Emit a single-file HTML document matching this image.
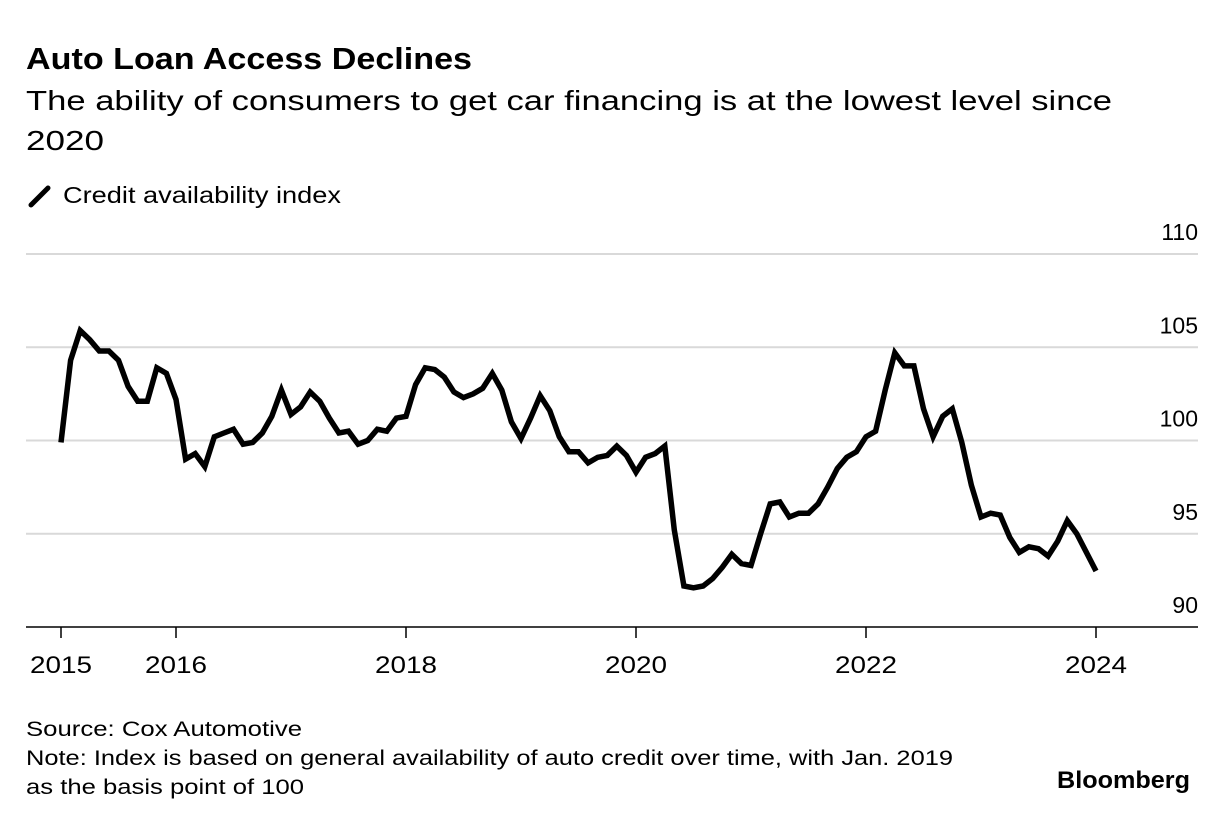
<!DOCTYPE html>
<html><head><meta charset="utf-8"><style>
body{margin:0;background:#fff;width:1227px;height:824px;overflow:hidden;font-family:"Liberation Sans",sans-serif;color:#000}
svg{position:absolute;left:0;top:0}
</style></head><body>
<svg width="1227" height="824">
<text x="26" y="69" font-size="31" font-weight="bold" textLength="446" lengthAdjust="spacingAndGlyphs">Auto Loan Access Declines</text>
<text x="26" y="110" font-size="28" textLength="1086" lengthAdjust="spacingAndGlyphs">The ability of consumers to get car financing is at the lowest level since</text>
<text x="26" y="150" font-size="28" textLength="78" lengthAdjust="spacingAndGlyphs">2020</text>
<g>
<line x1="31" y1="205" x2="48" y2="188" stroke="#000" stroke-width="5" stroke-linecap="round"/>
<text x="63" y="203" font-size="23" textLength="278" lengthAdjust="spacingAndGlyphs">Credit availability index</text>
</g>
<g id="grid"></g><g id="xaxis"></g><g id="plot"></g>
<text x="26" y="736" font-size="21" textLength="276" lengthAdjust="spacingAndGlyphs">Source: Cox Automotive</text>
<text x="26" y="765" font-size="21" textLength="927" lengthAdjust="spacingAndGlyphs">Note: Index is based on general availability of auto credit over time, with Jan. 2019</text>
<text x="26" y="794" font-size="21" textLength="278" lengthAdjust="spacingAndGlyphs">as the basis point of 100</text>
<text x="1190" y="788" font-size="24" font-weight="bold" text-anchor="end" textLength="133" lengthAdjust="spacingAndGlyphs">Bloomberg</text>
</svg>
<script>
const values=[99.9,104.3,105.9,105.4,104.8,104.8,104.3,102.9,102.1,102.1,103.9,103.6,
102.2,99.0,99.3,98.6,100.2,100.4,100.6,99.8,99.9,100.4,101.3,102.7,
101.4,101.8,102.6,102.1,101.2,100.4,100.5,99.8,100.0,100.6,100.5,101.2,
101.3,103.0,103.9,103.8,103.4,102.6,102.3,102.5,102.8,103.6,102.7,101.0,
100.1,101.2,102.4,101.6,100.2,99.4,99.4,98.8,99.1,99.2,99.7,99.2,
98.3,99.1,99.3,99.7,95.2,92.2,92.1,92.2,92.6,93.2,93.9,93.4,
93.3,95.0,96.6,96.7,95.9,96.1,96.1,96.6,97.5,98.5,99.1,99.4,
100.2,100.5,102.7,104.7,104.0,104.0,101.7,100.2,101.3,101.7,99.9,97.6,
95.9,96.1,96.0,94.8,94.0,94.3,94.2,93.8,94.6,95.7,95.0,94.0,
93.0];
const yTicks=[90,95,100,105,110];
const xTicks=[2015,2016,2018,2020,2022,2024];
const startYear=2015;
const NS='http://www.w3.org/2000/svg';
const xS=yr=>61+(yr-2015)*115;
const yS=v=>627-(v-90)*18.65;
const grid=document.getElementById('grid'),xa=document.getElementById('xaxis'),plot=document.getElementById('plot');
function mk(tag,at,parent){const e=document.createElementNS(NS,tag);for(const k in at)e.setAttribute(k,at[k]);parent.appendChild(e);return e;}
yTicks.forEach(t=>{
 if(t>90){const l=mk('line',{x1:26,x2:1198,y1:yS(t),y2:yS(t),stroke:'#d9d9d9','stroke-width':2},grid);
 
 }
 const tx=mk('text',{x:1198,y:yS(t)-14,'font-size':23,'text-anchor':'end'},grid);
 tx.textContent=t;
 
 
});
const base=mk('line',{x1:26,x2:1198,y1:627,y2:627,stroke:'#000','stroke-width':1.5},xa);


xTicks.forEach(t=>{
 const l=mk('line',{x1:xS(t),x2:xS(t),y1:627,y2:638,stroke:'#000','stroke-width':1.5},xa);
 
 
 const tx=mk('text',{x:xS(t),y:673,'font-size':24,'text-anchor':'middle','textLength':62,'lengthAdjust':'spacingAndGlyphs'},xa);
 tx.textContent=t;
 
 
});
const d=values.map((v,i)=>(i?'L':'M')+xS(startYear+i/12).toFixed(1)+','+yS(v).toFixed(1)).join('');
const p=mk('path',{d:d,fill:'none',stroke:'#000','stroke-width':5.5,'stroke-linejoin':'miter'},plot);


</script>
</body></html>
